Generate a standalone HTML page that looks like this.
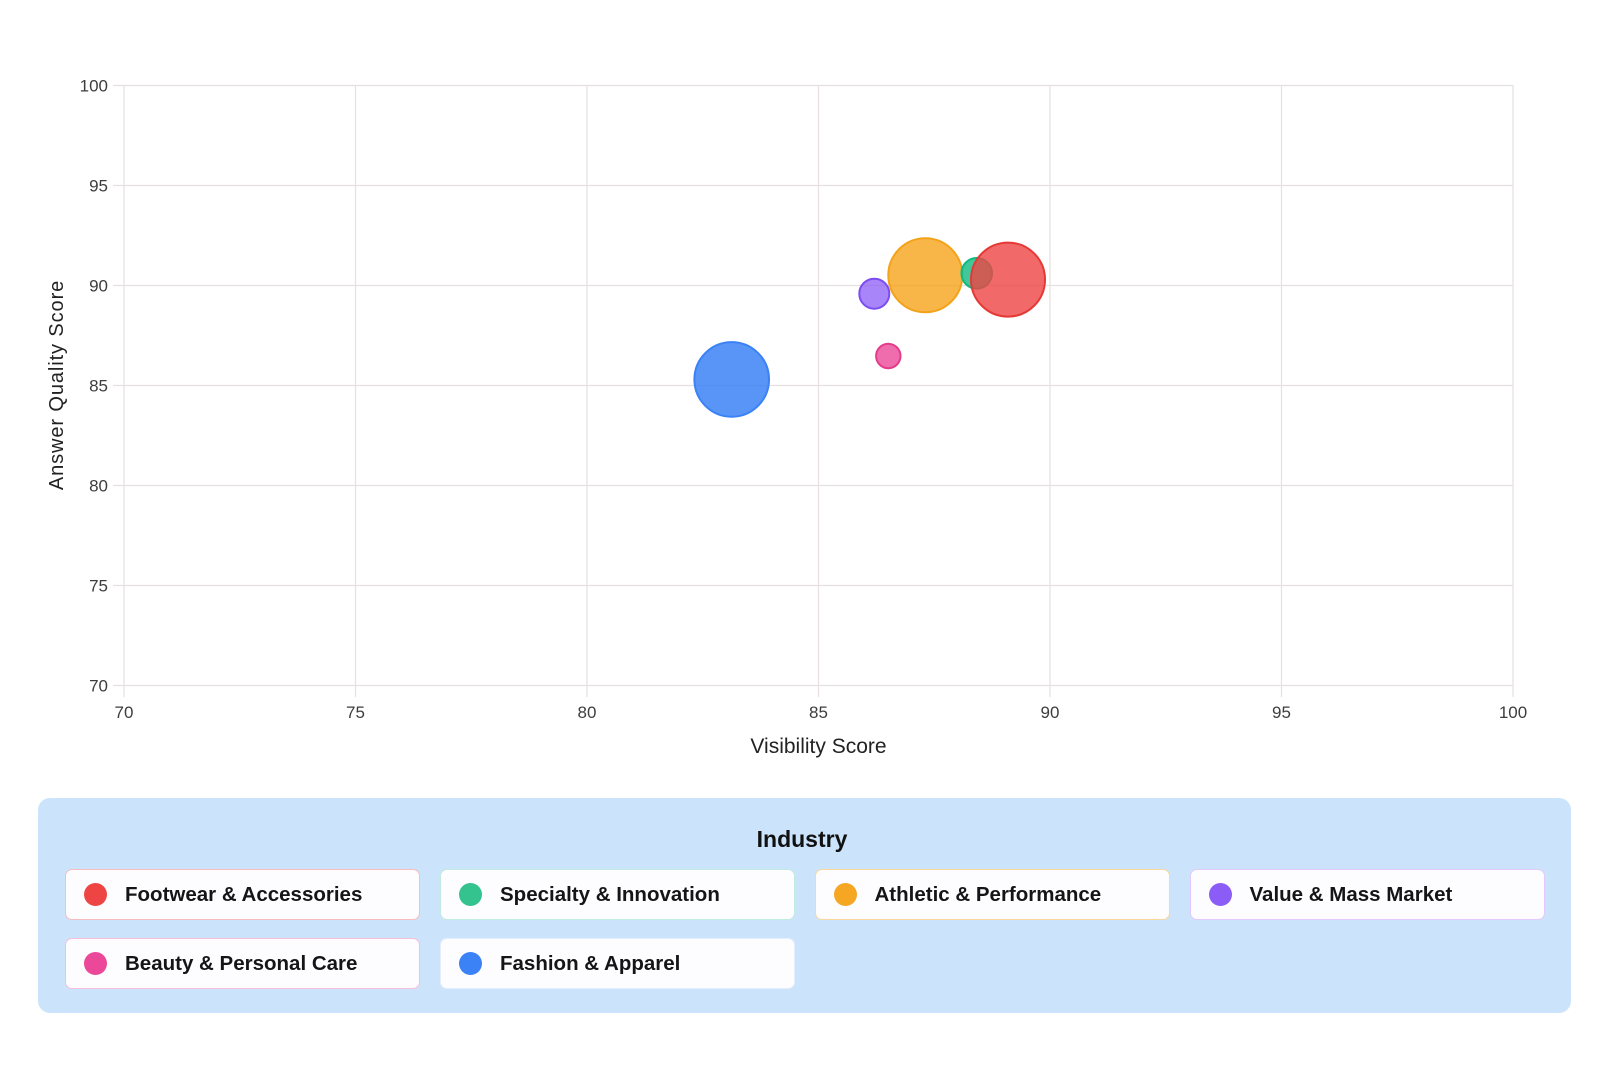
<!DOCTYPE html>
<html>
<head>
<meta charset="utf-8">
<style>
  html, body { margin:0; padding:0; background:#ffffff; }
  body { width:1604px; height:1074px; position:relative; overflow:hidden; font-family:"Liberation Sans", "DejaVu Sans", sans-serif; }
  svg.chart { position:absolute; left:0; top:0; }
  .legend {
    position:absolute; left:38px; top:798px; width:1533px; height:215px;
    background:#cbe4fb; border-radius:12px; box-sizing:border-box;
  }
  .legend .title {
    position:absolute; left:0; width:100%; top:826px; text-align:center;
    font-weight:bold; font-size:23px; color:#111;
  }
  .item {
    position:absolute; width:355px; height:51px; box-sizing:border-box;
    background:#fdfdff; border-radius:7px; border:1.5px solid;
  }
  .item .dot { position:absolute; left:18px; top:13px; width:23px; height:23px; border-radius:50%; }
  .item .lbl { position:absolute; left:59px; top:0; line-height:49px; font-weight:bold; font-size:20.5px; color:#151515; white-space:nowrap; }
</style>
</head>
<body>
<svg class="chart" width="1604" height="790" viewBox="0 0 1604 790" xmlns="http://www.w3.org/2000/svg">
  <g stroke="#e6e0e0" stroke-width="1.2" fill="none">
    <!-- horizontal grid -->
    <line x1="113" y1="85.5" x2="1513" y2="85.5"/>
    <line x1="113" y1="185.5" x2="1513" y2="185.5"/>
    <line x1="113" y1="285.5" x2="1513" y2="285.5"/>
    <line x1="113" y1="385.5" x2="1513" y2="385.5"/>
    <line x1="113" y1="485.5" x2="1513" y2="485.5"/>
    <line x1="113" y1="585.5" x2="1513" y2="585.5"/>
    <line x1="113" y1="685.5" x2="1513" y2="685.5"/>
    <!-- vertical grid -->
    <line x1="124" y1="85.5" x2="124" y2="697"/>
    <line x1="355.5" y1="85.5" x2="355.5" y2="697"/>
    <line x1="587" y1="85.5" x2="587" y2="697"/>
    <line x1="818.5" y1="85.5" x2="818.5" y2="697"/>
    <line x1="1050" y1="85.5" x2="1050" y2="697"/>
    <line x1="1281.5" y1="85.5" x2="1281.5" y2="697"/>
    <line x1="1513" y1="85.5" x2="1513" y2="697"/>
  </g>
  <g font-family="Liberation Sans, sans-serif" font-size="17" fill="#3d3d3d" text-anchor="end">
    <text x="108" y="91.5">100</text>
    <text x="108" y="191.5">95</text>
    <text x="108" y="291.5">90</text>
    <text x="108" y="391.5">85</text>
    <text x="108" y="491.5">80</text>
    <text x="108" y="591.5">75</text>
    <text x="108" y="691.5">70</text>
  </g>
  <g font-family="Liberation Sans, sans-serif" font-size="17" fill="#3d3d3d" text-anchor="middle">
    <text x="124" y="718">70</text>
    <text x="355.5" y="718">75</text>
    <text x="587" y="718">80</text>
    <text x="818.5" y="718">85</text>
    <text x="1050" y="718">90</text>
    <text x="1281.5" y="718">95</text>
    <text x="1513" y="718">100</text>
  </g>
  <text x="818.5" y="753" font-family="Liberation Sans, sans-serif" font-size="21" fill="#222" text-anchor="middle">Visibility Score</text>
  <text transform="translate(63,385) rotate(-90)" x="0" y="0" font-family="Liberation Sans, sans-serif" font-size="20" letter-spacing="0.9" fill="#222" text-anchor="middle">Answer Quality Score</text>

  <!-- bubbles -->
  <g stroke-width="2">
    <circle cx="731.7" cy="379.4" r="37.3" fill="rgba(59,130,246,0.85)" stroke="#3b82f6"/>
    <circle cx="888.3" cy="356" r="12.2" fill="rgba(236,72,153,0.8)" stroke="#e23d8c"/>
    <circle cx="874.3" cy="293.7" r="15" fill="rgba(139,92,246,0.75)" stroke="#7c4df0"/>
    <circle cx="925.3" cy="275.3" r="37" fill="rgba(245,158,11,0.75)" stroke="#f3a21a"/>
    <circle cx="976.7" cy="273.3" r="15.3" fill="rgba(16,185,129,0.8)" stroke="#10b981"/>
    <circle cx="1008" cy="279.6" r="37" fill="rgba(239,68,68,0.8)" stroke="#e53935"/>
  </g>
</svg>

<div class="legend"></div>
<div class="legend" style="background:transparent;">
</div>
<div style="position:absolute;left:0;top:0;width:1604px;">
  <div style="position:absolute;left:0;width:1604px;top:826px;text-align:center;font-weight:bold;font-size:23px;color:#111;line-height:26px;">Industry</div>
</div>

<div class="item" style="left:65px; top:869px; border-color:rgba(239,68,68,0.35);">
  <div class="dot" style="background:#ef4444;"></div><div class="lbl">Footwear &amp; Accessories</div>
</div>
<div class="item" style="left:440px; top:869px; border-color:rgba(16,185,129,0.25);">
  <div class="dot" style="background:#34c38f;"></div><div class="lbl">Specialty &amp; Innovation</div>
</div>
<div class="item" style="left:814.5px; top:869px; border-color:rgba(245,158,11,0.4);">
  <div class="dot" style="background:#f5a623;"></div><div class="lbl">Athletic &amp; Performance</div>
</div>
<div class="item" style="left:1189.5px; top:869px; border-color:rgba(168,85,247,0.3);">
  <div class="dot" style="background:#8b5cf6;"></div><div class="lbl">Value &amp; Mass Market</div>
</div>
<div class="item" style="left:65px; top:938px; border-color:rgba(236,72,153,0.35);">
  <div class="dot" style="background:#ec4899;"></div><div class="lbl">Beauty &amp; Personal Care</div>
</div>
<div class="item" style="left:440px; top:938px; border-color:rgba(59,130,246,0.12);">
  <div class="dot" style="background:#3b82f6;"></div><div class="lbl">Fashion &amp; Apparel</div>
</div>
</body>
</html>
